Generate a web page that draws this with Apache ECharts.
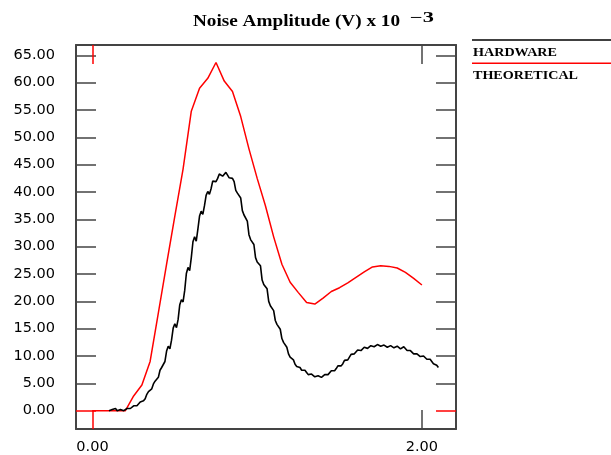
<!DOCTYPE html>
<html>
<head>
<meta charset="utf-8">
<script src="https://cdn.jsdelivr.net/npm/echarts@6/dist/echarts.min.js"></script>
<style>
html,body{margin:0;padding:0;background:#fff;}
#c{width:611px;height:455px;}
</style>
</head>
<body>
<div id="c"></div>
<script>
// ---- data ----
var titleText = 'Noise Amplitude (V) x 10';
var titleExp = '\u22123';
var seriesNames = ['HARDWARE', 'THEORETICAL'];
var seriesColors = ['#000000', '#ff0000'];

var yTickLabels = [0, 5, 10, 15, 20, 25, 30, 35, 40, 45, 50, 55, 60, 65];
var xTickLabels = [0, 2];

// theoretical curve (sampled every 0.05)
var thX = [0.00,0.05,0.10,0.15,0.20,0.25,0.30,0.35,0.40,0.45,
           0.50,0.55,0.60,0.65,0.70,0.75,0.80,0.85,0.90,0.95,
           1.00,1.05,1.10,1.15,1.20,1.25,1.30,1.35,1.40,1.45,
           1.50,1.55,1.60,1.65,1.70,1.75,1.80,1.85,1.90,1.95,2.00];
var thY = [0,0,0,0,0,2.7,4.7,9.0,17.9,26.8,
           35.6,44.2,54.8,59.0,60.8,63.7,60.3,58.4,53.8,47.9,
           42.5,37.5,31.8,26.8,23.5,21.6,19.8,19.5,20.6,21.8,
           22.5,23.4,24.4,25.4,26.3,26.5,26.4,26.1,25.3,24.2,23.0];

// hardware measurement (sampled every 0.01 from 0.10 to 2.10)
var hwStart = 0.10, hwStep = 0.01;
var hwY = [
  0.0,-0.2,0.2,0.1,0.4,0.0,-0.1,0.2,0.3,0.0,
  0.1,0.4,0.5,0.4,0.6,0.9,1.1,0.9,1.2,1.6,
  1.9,1.8,2.2,3.0,3.5,3.4,4.0,4.9,5.4,5.3,
  6.1,7.4,7.9,7.7,9.0,10.9,11.8,11.3,12.9,15.1,
  15.9,15.2,16.7,19.4,20.3,19.9,22.0,25.1,26.2,25.6,
  28.0,30.9,31.8,31.0,33.2,35.6,36.5,35.9,37.5,39.4,
  40.1,39.6,40.6,42.0,42.3,41.9,42.5,43.3,43.4,42.9,
  43.1,43.6,43.4,42.6,42.3,42.5,41.9,40.3,39.8,40.0,
  38.9,36.6,35.8,36.0,34.7,32.2,31.3,31.6,30.4,28.0,
  27.2,27.5,26.5,23.9,23.1,23.4,22.3,20.0,19.2,19.5,
  18.3,16.5,15.8,16.0,14.9,13.2,12.5,12.7,11.6,10.4,
  9.8,9.9,9.3,8.5,8.1,8.3,7.9,7.4,7.2,7.4,
  7.0,6.6,6.5,6.7,6.5,6.2,6.2,6.4,6.3,6.1,
  6.3,6.6,6.8,6.6,6.9,7.3,7.5,7.3,7.7,8.2,
  8.4,8.2,8.6,9.2,9.4,9.3,9.8,10.3,10.5,10.4,
  10.7,11.1,11.2,11.0,11.2,11.6,11.6,11.4,11.6,11.9,
  11.9,11.7,11.8,12.1,12.0,11.8,11.8,12.0,11.9,11.6,
  11.7,11.9,11.8,11.5,11.6,11.8,11.7,11.3,11.4,11.7,
  11.4,11.0,10.8,11.0,10.7,10.4,10.3,10.4,10.2,9.9,
  9.8,10.0,9.8,9.4,9.3,9.4,9.1,8.6,8.4,8.3,
  7.9
];
var hwX = hwY.map(function(_, i){ return +(hwStart + i * hwStep).toFixed(2); });

// ---- chart ----
var X_MIN = -0.1, X_MAX = 2.207;
var Y_MIN = -3.35, Y_MAX = 66.9;
var axisCol = '#444';
var labelFont = {fontFamily: 'DejaVu Sans', fontSize: 14.5, color: '#000'};
var yTicksBlack = yTickLabels.filter(function(v){return v !== 0;});
var xTicksBlack = xTickLabels.filter(function(v){return v !== 0;});

function fmt(v){ return Number(v).toFixed(2); }

var mctx = document.createElement('canvas').getContext('2d');
function textW(text, font){ mctx.font = font; return mctx.measureText(text).width; }

function xAx(pos, ticks, color, showLine, showLabel) {
  return {
    type: 'value', position: pos, min: X_MIN, max: X_MAX,
    axisLine: {show: showLine, onZero: false, lineStyle: {color: axisCol, width: 2}},
    axisTick: {show: true, inside: true, length: 19, customValues: ticks, lineStyle: {color: color, width: 1.5}},
    axisLabel: showLabel ? Object.assign({show: true, customValues: xTickLabels, formatter: fmt, margin: 11}, labelFont) : {show: false},
    splitLine: {show: false}
  };
}
function yAx(pos, ticks, color, showLine, showLabel) {
  return {
    type: 'value', position: pos, min: Y_MIN, max: Y_MAX,
    axisLine: {show: showLine, onZero: false, lineStyle: {color: axisCol, width: 2}},
    axisTick: {show: true, inside: true, length: 20, customValues: ticks, lineStyle: {color: color, width: 1.5}},
    axisLabel: showLabel ? Object.assign({show: true, customValues: yTickLabels, formatter: fmt, margin: 21}, labelFont) : {show: false},
    splitLine: {show: false}
  };
}

var titleFont = 'bold 16px "Liberation Serif"';
var expFont = 'bold 14px "Liberation Serif"';
var legendFont = 'bold 13.5px "Liberation Serif"';
var titleScale = 207 / textW(titleText, titleFont);
var expScale = 24 / textW(titleExp, expFont);

var legendGraphics = [];
var legendTextW = [84, 105];
seriesNames.forEach(function(name, i){
  var y0 = 40 + i * 23.3;
  legendGraphics.push({
    type: 'line', shape: {x1: 472, y1: y0, x2: 611, y2: y0},
    style: {stroke: seriesColors[i], lineWidth: 1.5}, silent: true
  });
  legendGraphics.push({
    type: 'text', x: 473, y: y0 + 12.5, scaleX: legendTextW[i] / textW(name, legendFont),
    style: {x: 0, y: 0, text: name, fill: '#000', font: legendFont, verticalAlign: 'middle', align: 'left'}
  });
});

var chart = echarts.init(document.getElementById('c'), null, {renderer: 'canvas'});
chart.setOption({
  animation: false,
  backgroundColor: '#fff',
  grid: {left: 76, top: 45, width: 380, height: 384, outerBoundsMode: 'none', containLabel: false},
  xAxis: [
    xAx('bottom', xTicksBlack, axisCol, true, true),
    xAx('bottom', [0], '#ff0000', false, false),
    xAx('top', xTicksBlack, axisCol, true, false),
    xAx('top', [0], '#ff0000', false, false)
  ],
  yAxis: [
    yAx('left', yTicksBlack, axisCol, true, true),
    yAx('left', [0], '#ff0000', false, false),
    yAx('right', yTicksBlack, axisCol, true, false),
    yAx('right', [0], '#ff0000', false, false)
  ],
  graphic: [
    {type: 'text', x: 193, y: 21.5, scaleX: titleScale,
     style: {x: 0, y: 0, text: titleText, fill: '#000', font: titleFont, verticalAlign: 'middle', align: 'left'}},
    {type: 'text', x: 410, y: 18.5, scaleX: expScale,
     style: {x: 0, y: 0, text: titleExp, fill: '#000', font: expFont, verticalAlign: 'middle', align: 'left'}}
  ].concat(legendGraphics),
  series: [
    {
      name: seriesNames[1], type: 'line', xAxisIndex: 0, yAxisIndex: 0,
      data: thX.map(function(x, i){ return [x, thY[i]]; }),
      showSymbol: false, symbol: 'none', smooth: false, z: 2,
      lineStyle: {color: seriesColors[1], width: 1.5}
    },
    {
      name: seriesNames[0], type: 'line', xAxisIndex: 0, yAxisIndex: 0,
      data: hwX.map(function(x, i){ return [x, hwY[i]]; }),
      showSymbol: false, symbol: 'none', smooth: false, z: 3,
      lineStyle: {color: seriesColors[0], width: 1.6}
    }
  ]
});
</script>
</body>
</html>
